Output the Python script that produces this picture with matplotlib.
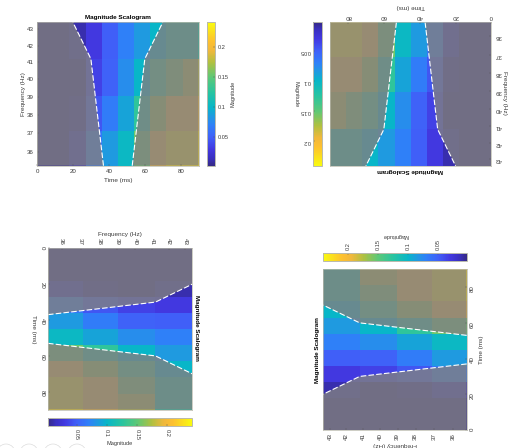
import matplotlib
matplotlib.use("Agg")
import matplotlib.pyplot as plt
import numpy as np
from matplotlib.colors import LinearSegmentedColormap, Normalize
from matplotlib.cm import ScalarMappable
from matplotlib.patches import Ellipse
from matplotlib.ticker import NullLocator, NullFormatter

plt.rcParams['font.family'] = ['Liberation Sans', 'DejaVu Sans']

W, H = 518, 448

time_edges = [0, 9, 18, 27, 36, 45, 54, 63, 72, 81, 90]
freq_edges = [35.3, 37.1, 39.05, 41.2, 43.44]
mag_row_36 = [0.005, 0.005, 0.015, 0.065, 0.085, 0.103, 0.155, 0.200, 0.225, 0.225]
mag_row_38 = [0.005, 0.005, 0.008, 0.045, 0.068, 0.090, 0.128, 0.170, 0.200, 0.200]
mag_row_40 = [0.005, 0.005, 0.005, 0.035, 0.052, 0.078, 0.100, 0.140, 0.160, 0.180]
mag_row_42 = [0.005, 0.005, 0.012, 0.030, 0.050, 0.070, 0.085, 0.100, 0.125, 0.125]
coi_freq = [35.3, 41.2, 43.44]
coi_left = [37, 30, 20]
coi_right = [53, 60, 70]
time_ticks = [0, 20, 40, 60, 80]
freq_ticks = [36, 37, 38, 39, 40, 41, 42, 43]
mag_ticks = [0.05, 0.1, 0.15, 0.2]
mag_labels = ['0.05', '0.1', '0.15', '0.2']
vmin, vmax = 0.0028, 0.2417

stop_values = [0.0028, 0.015, 0.03, 0.05, 0.07, 0.085, 0.1, 0.125, 0.15, 0.175, 0.195, 0.21, 0.2417]
stop_colors = ['#352a87', '#3a30c0', '#4238e0', '#4060f8', '#2f80f8', '#1f9ae0', '#08b6c8',
               '#28c4a0', '#5cc878', '#b0c040', '#f0b83c', '#fdc030', '#f9fb0e']
parula = LinearSegmentedColormap.from_list(
    'parula', [((v - vmin) / (vmax - vmin), c) for v, c in zip(stop_values, stop_colors)])
Z = np.array([mag_row_36, mag_row_38, mag_row_40, mag_row_42])
norm = Normalize(vmin, vmax)
TXT = '#3a3a3a'
FRAME = '#b9b9ac'
FS = 4.4
FS_CB = 4.1
FS_LABEL = 4.6
FS_TITLE = 4.6
MASK = '#808082'
ALPHA = 0.8


def box(x0, y0, x1, y1):
    return [x0 / W, 1 - y1 / H, (x1 - x0) / W, (y1 - y0) / H]


def label(x, y, s, rot, **kw):
    kw.setdefault('color', TXT)
    kw.setdefault('fontsize', FS_LABEL)
    fig.text(x / W, 1 - y / H, s, rotation=rot, ha='center', va='center', **kw)


fig = plt.figure(figsize=(W / 100, H / 100), dpi=100, facecolor='white')


def panel(ax_box, cb_box, swap, inv_x, inv_y, rot, side_x, side_y, cb_side):
    ax = fig.add_axes(box(*ax_box))
    fmin, fmax = freq_edges[0], freq_edges[-1]
    mask_l_t = [0] + coi_left + [0]
    mask_f = [fmin] + coi_freq + [fmax]
    mask_r_t = [90] + coi_right + [90]
    if swap:
        ax.pcolormesh(freq_edges, time_edges, Z.T, cmap=parula, norm=norm)
        ax.fill(mask_f, mask_l_t, color=MASK, alpha=ALPHA, lw=0)
        ax.fill(mask_f, mask_r_t, color=MASK, alpha=ALPHA, lw=0)
        ax.plot(coi_freq, coi_left, '--', color='white', lw=0.8, dashes=(5, 2))
        ax.plot(coi_freq, coi_right, '--', color='white', lw=0.8, dashes=(5, 2))
        ax.set_xscale('log')
        ax.set_xlim(fmin, fmax)
        ax.set_ylim(0, 90)
        ax.set_xticks(freq_ticks, [str(v) for v in freq_ticks])
        ax.set_yticks(time_ticks, [str(v) for v in time_ticks])
        ax.xaxis.set_minor_locator(NullLocator())
        ax.xaxis.set_minor_formatter(NullFormatter())
    else:
        ax.pcolormesh(time_edges, freq_edges, Z, cmap=parula, norm=norm)
        ax.fill(mask_l_t, mask_f, color=MASK, alpha=ALPHA, lw=0)
        ax.fill(mask_r_t, mask_f, color=MASK, alpha=ALPHA, lw=0)
        ax.plot(coi_left, coi_freq, '--', color='white', lw=0.8, dashes=(5, 2))
        ax.plot(coi_right, coi_freq, '--', color='white', lw=0.8, dashes=(5, 2))
        ax.set_yscale('log')
        ax.set_ylim(fmin, fmax)
        ax.set_xlim(0, 90)
        ax.set_yticks(freq_ticks, [str(v) for v in freq_ticks])
        ax.set_xticks(time_ticks, [str(v) for v in time_ticks])
        ax.yaxis.set_minor_locator(NullLocator())
        ax.yaxis.set_minor_formatter(NullFormatter())
    if inv_x:
        ax.invert_xaxis()
    if inv_y:
        ax.invert_yaxis()
    ax.xaxis.set_ticks_position(side_x)
    ax.yaxis.set_ticks_position(side_y)
    ax.tick_params(axis='both', which='major', direction='in', length=1.2, width=0.3,
                   labelsize=FS, labelcolor=TXT, color='#555555', pad=2.2, labelrotation=rot)
    for s in ax.spines.values():
        s.set_color(FRAME)
        s.set_linewidth(0.5)

    cax = fig.add_axes(box(*cb_box))
    orient = 'vertical' if cb_side in ('left', 'right') else 'horizontal'
    cb = fig.colorbar(ScalarMappable(norm=norm, cmap=parula), cax=cax, orientation=orient)
    cb.set_ticks(mag_ticks, labels=mag_labels)
    cb.minorticks_off()
    if orient == 'vertical':
        cax.yaxis.set_ticks_position(cb_side)
        if inv_y:
            cax.invert_yaxis()
    else:
        cax.xaxis.set_ticks_position(cb_side)
        if inv_x:
            cax.invert_xaxis()
    cax.tick_params(axis='both', which='major', direction='in', length=1.2, width=0.3,
                    labelsize=FS_CB, labelcolor=TXT, color='#555555', pad=2, labelrotation=rot)
    cb.outline.set_edgecolor(FRAME)
    cb.outline.set_linewidth(0.7)
    return ax


# original orientation
panel((37, 22.3, 198.7, 165.7), (206.7, 22.3, 215, 165.7), False, False, False, 0, 'bottom', 'left', 'right')
label(118, 18, 'Magnitude Scalogram', 0, fontweight='bold', color='black', fontsize=FS_TITLE)
label(118, 180.5, 'Time (ms)', 0)
label(23, 94, 'Frequency (Hz)', 90)
label(232.5, 94, 'Magnitude', 90, fontsize=FS_CB)

# rotated by 180 degrees
panel((330, 22.3, 491.5, 166), (313.3, 22.3, 321.7, 166), False, True, True, 180, 'top', 'right', 'left')
label(410.5, 170.7, 'Magnitude Scalogram', 180, fontweight='bold', color='black', fontsize=FS_TITLE)
label(410.5, 7, 'Time (ms)', 180)
label(505, 93, 'Frequency (Hz)', 270)
label(296, 94, 'Magnitude', 270, fontsize=FS_CB)

# rotated 90 degrees clockwise
panel((48, 248.3, 192.3, 409.7), (48, 417.7, 192.3, 426), True, False, True, 270, 'top', 'left', 'bottom')
label(197, 328, 'Magnitude Scalogram', 270, fontweight='bold', color='black', fontsize=FS_TITLE)
label(33, 329, 'Time (ms)', 270)
label(120, 234, 'Frequency (Hz)', 0)
label(120, 443.5, 'Magnitude', 0, fontsize=FS_CB)

# rotated 90 degrees counter-clockwise
panel((323, 269.3, 466.7, 430), (323, 252.7, 466.7, 261.3), True, True, False, 90, 'bottom', 'right', 'top')
label(318, 350, 'Magnitude Scalogram', 90, fontweight='bold', color='black', fontsize=FS_TITLE)
label(481, 350, 'Time (ms)', 90)
label(395, 444, 'Frequency (Hz)', 180)
label(395, 235, 'Magnitude', 180, fontsize=FS_CB)

# partly visible toolbar circles at the lower edge
for cx in (6, 29, 53, 77):
    fig.add_artist(Ellipse((cx / W, 1 - 453 / H), 18 / W, 18 / H, fill=False,
                           edgecolor='#d4d4d4', lw=0.4, transform=fig.transFigure))

fig.savefig('out.png', dpi=100)
